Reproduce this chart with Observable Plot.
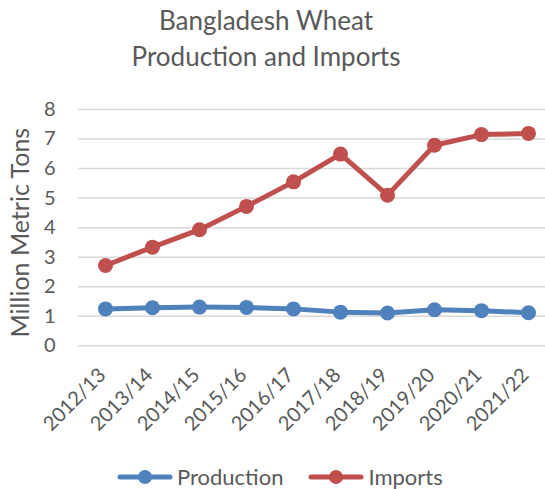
<!DOCTYPE html>
<html>
<head>
<meta charset="utf-8">
<script src="https://cdn.jsdelivr.net/npm/d3@7"></script>
<script src="https://cdn.jsdelivr.net/npm/@observablehq/plot@0.6"></script>
<style>
  body { margin: 0; background: #fff; font-family: Lato, "Open Sans", sans-serif; color: #595959; }
  #wrap { width: 545px; height: 489px; position: relative; overflow: hidden; }
  #title { position: absolute; top: 2px; left: 0; width: 532px; text-align: center; font-size: 26px; line-height: 36px; color: #595959; }
  #chart { position: absolute; top: 90px; left: 0; }
  #legend { position: absolute; top: 463px; left: 117px; display: flex; align-items: center; font-size: 22px; color: #595959; }
  .item { display: flex; align-items: center; margin-right: 25px; }
  .item svg { margin-right: 4px; }
</style>
</head>
<body>
<div id="wrap">
  <div id="title">Bangladesh Wheat<br>Production and Imports</div>
  <div id="chart"></div>
  <div id="legend"></div>
</div>
<script>
const years = ["2012/13","2013/14","2014/15","2015/16","2016/17","2017/18","2018/19","2019/20","2020/21","2021/22"];
const production = [1.25, 1.29, 1.31, 1.30, 1.25, 1.14, 1.11, 1.22, 1.19, 1.12];
const imports = [2.72, 3.34, 3.93, 4.72, 5.55, 6.49, 5.10, 6.79, 7.15, 7.19];
const yTicks = [0,1,2,3,4,5,6,7,8];
const seriesNames = ["Production", "Imports"];
const seriesColors = ["#4f81bd", "#c0504d"];

const rows = [];
years.forEach((y, i) => {
  rows.push({year: y, series: "Production", value: production[i]});
  rows.push({year: y, series: "Imports", value: imports[i]});
});

const chart = Plot.plot({
  width: 545,
  height: 365,
  marginLeft: 78,
  marginRight: 0,
  marginTop: 19,
  marginBottom: 109.7,
  style: {fontFamily: "Lato, 'Open Sans', sans-serif", color: "#595959", background: "transparent"},
  x: {type: "point", domain: years, range: [101.7, 531.7], padding: 0, label: null},
  y: {domain: [0, 8], ticks: yTicks, label: null},
  color: {domain: seriesNames, range: seriesColors},
  marks: [
    Plot.ruleY(yTicks, {stroke: "#d9d9d9", strokeWidth: 1.5}),
    Plot.axisY({ticks: yTicks, tickSize: 0, tickPadding: 23, fontSize: 20, label: null, fill: "#595959"}),
    Plot.axisX({tickSize: 0, tickRotate: -45, tickPadding: 14, dx: -3, dy: 12, fontSize: 20, label: null, fill: "#595959"}),
    Plot.text(["Million Metric Tons"], {frameAnchor: "left", textAnchor: "middle", rotate: -90, dx: -58, dy: 5, fontSize: 25, fill: "#595959"}),
    Plot.line(rows, {x: "year", y: "value", z: "series", stroke: "series", strokeWidth: 5, strokeLinejoin: "round"}),
    Plot.dot(rows, {x: "year", y: "value", fill: "series", r: 7.5})
  ]
});
document.getElementById("chart").appendChild(chart);

const legend = document.getElementById("legend");
seriesNames.forEach((name, i) => {
  const item = document.createElement("div");
  item.className = "item";
  item.innerHTML = `<svg width="56" height="16"><line x1="3" y1="8" x2="53" y2="8" stroke="${seriesColors[i]}" stroke-width="5" stroke-linecap="round"/><circle cx="28" cy="8" r="7" fill="${seriesColors[i]}"/></svg><span>${name}</span>`;
  legend.appendChild(item);
});
</script>
</body>
</html>
